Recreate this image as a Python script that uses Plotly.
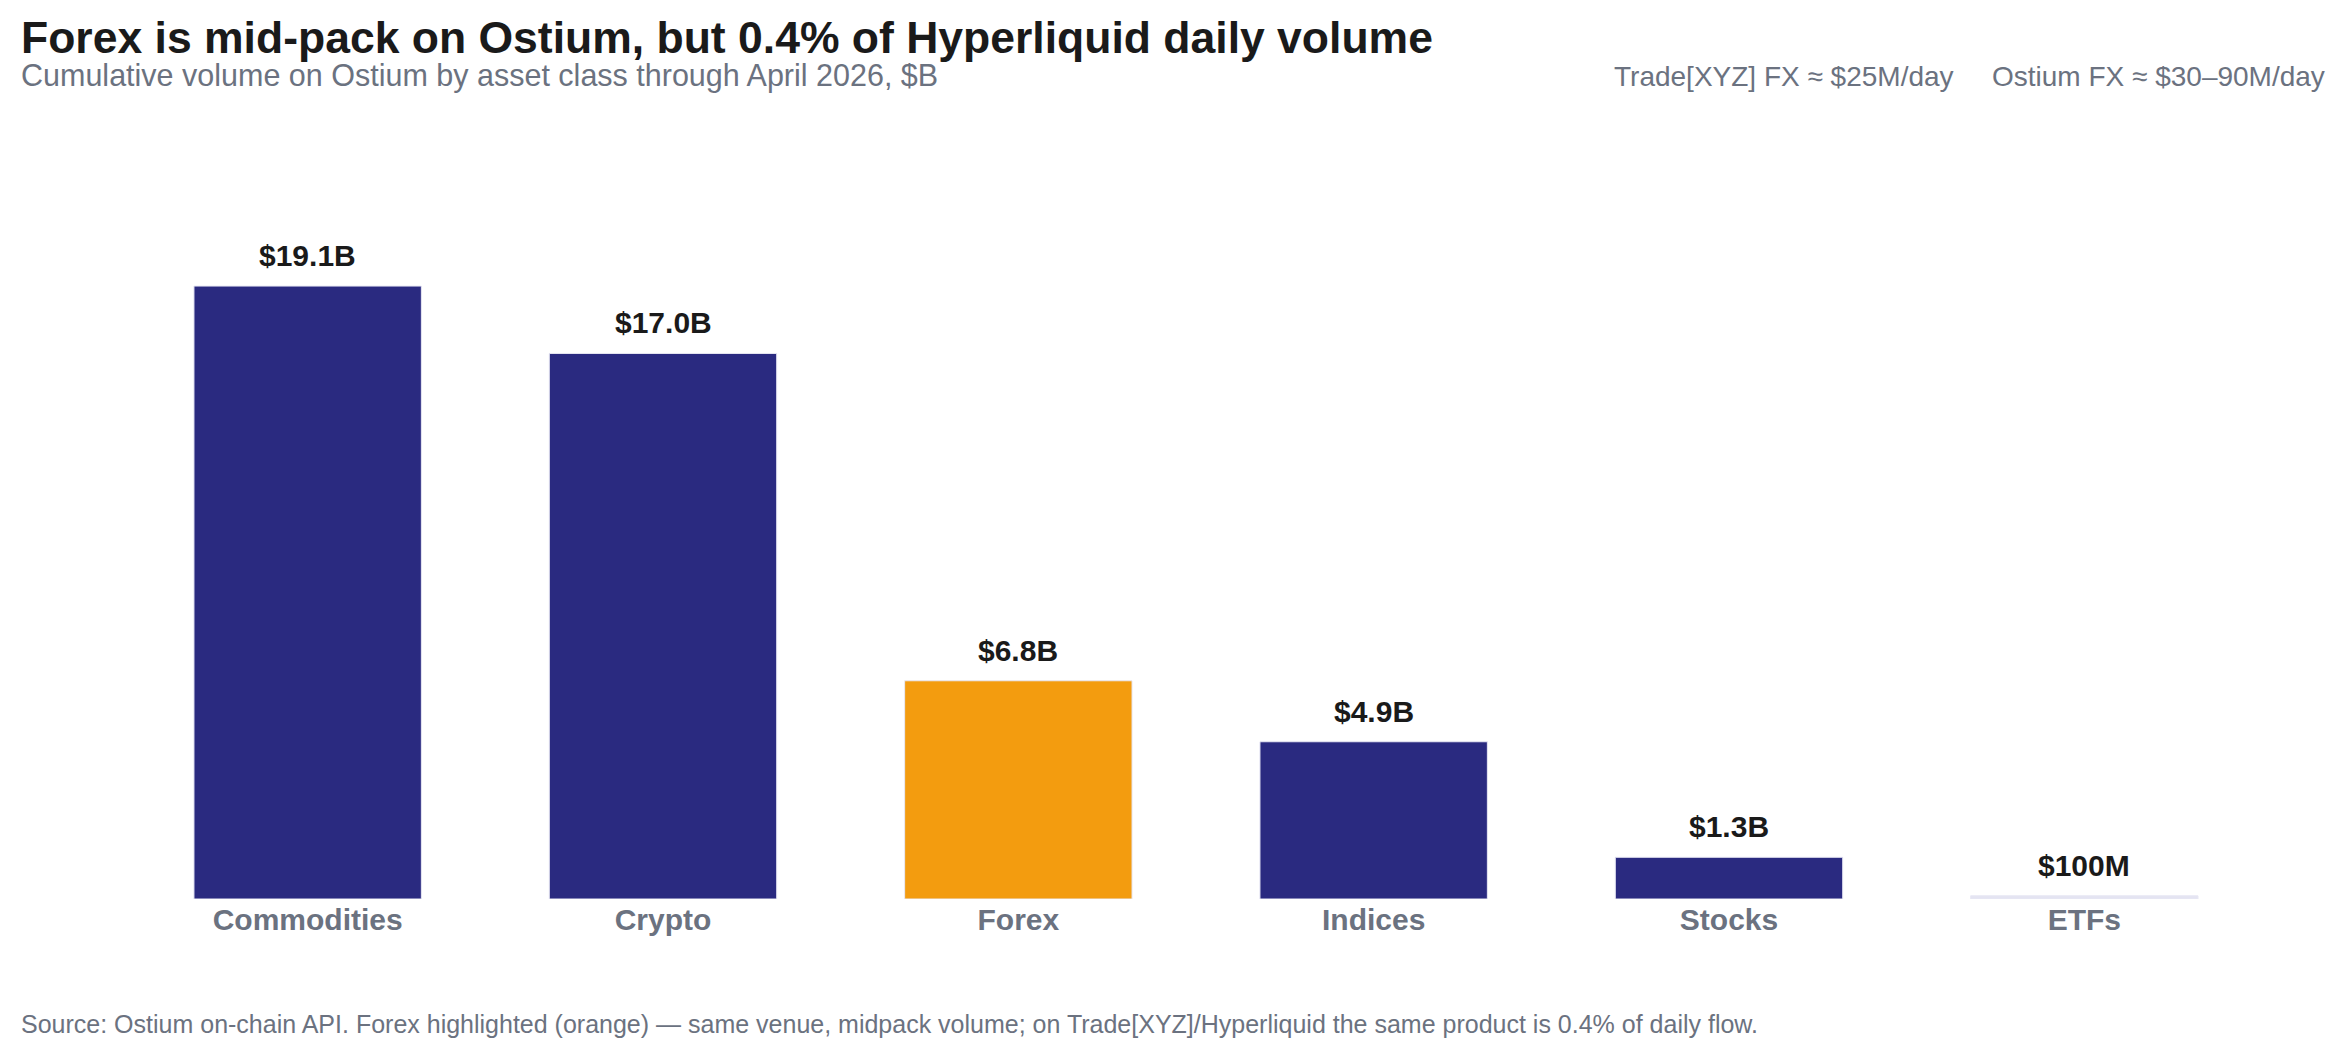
import plotly.graph_objects as go

# data
categories = ["Commodities", "Crypto", "Forex", "Indices", "Stocks", "ETFs"]
volume_b = [19.1, 17.0, 6.8, 4.9, 1.3, 0.1]
value_labels = ["$19.1B", "$17.0B", "$6.8B", "$4.9B", "$1.3B", "$100M"]
bar_colors = ["#2a2a80", "#2a2a80", "#f39c0f", "#2a2a80", "#2a2a80", "#e4e4f2"]

title_text = "Forex is mid-pack on Ostium, but 0.4% of Hyperliquid daily volume"
subtitle_text = "Cumulative volume on Ostium by asset class through April 2026, $B"
note_left = "Trade[XYZ] FX ≈ $25M/day"
note_right = "Ostium FX ≈ $30–90M/day"
source_text = ("Source: Ostium on-chain API. Forex highlighted (orange) — same venue, midpack volume; "
               "on Trade[XYZ]/Hyperliquid the same product is 0.4% of daily flow.")

# page has an 8px body margin, so the figure sits 8px in from the top-left
OFF = 8
W, H = 2344, 1057
L, R, T, B = 122, 90, 185, 166
GRAY = "#6b7280"
FONT = "Liberation Sans, Arial, sans-serif"


# convert page pixels to paper coords
def px(x):
    return (x - OFF - L) / (W - L - R)


def py(y):
    return (H - B - (y - OFF)) / (H - T - B)


fig = go.Figure()
fig.add_trace(go.Bar(
    x=categories, y=volume_b,
    marker=dict(color=bar_colors, line=dict(color="#e8e8f4", width=1)),
    width=0.64,
    hoverinfo="skip",
))

# value labels above bars
for cat, val, lab in zip(categories, volume_b, value_labels):
    fig.add_annotation(x=cat, y=val, text="<b>" + lab + "</b>", showarrow=False,
                       yanchor="bottom", yshift=12,
                       font=dict(family=FONT, size=30, color="#1a1a1a"))

fig.add_annotation(xref="paper", yref="paper", x=px(19), y=py(37), xanchor="left", yanchor="middle",
                   text="<b>" + title_text + "</b>", showarrow=False,
                   font=dict(family=FONT, size=44.5, color="#1a1a1a"))
fig.add_annotation(xref="paper", yref="paper", x=px(19), y=py(76), xanchor="left", yanchor="middle",
                   text=subtitle_text, showarrow=False,
                   font=dict(family=FONT, size=30.5, color=GRAY))
fig.add_annotation(xref="paper", yref="paper", x=px(1956), y=py(77), xanchor="right", yanchor="middle",
                   text=note_left, showarrow=False,
                   font=dict(family=FONT, size=28, color=GRAY))
fig.add_annotation(xref="paper", yref="paper", x=px(2327), y=py(77), xanchor="right", yanchor="middle",
                   text=note_right, showarrow=False,
                   font=dict(family=FONT, size=28, color=GRAY))
fig.add_annotation(xref="paper", yref="paper", x=px(19), y=py(1024), xanchor="left", yanchor="middle",
                   text=source_text, showarrow=False,
                   font=dict(family=FONT, size=25, color=GRAY))

fig.update_layout(
    width=W, height=H,
    margin=dict(l=L, r=R, t=T, b=B),
    plot_bgcolor="white", paper_bgcolor="white",
    showlegend=False,
    bargap=0.36,
)
fig.update_xaxes(showgrid=False, showline=False, zeroline=False, ticks="",
                 tickfont=dict(family=FONT, size=30, color=GRAY),
                 tickprefix="<b>", ticksuffix="</b>")
fig.update_yaxes(range=[0, 22.0], visible=False, showgrid=False, zeroline=False)

fig.write_html("out.html")
